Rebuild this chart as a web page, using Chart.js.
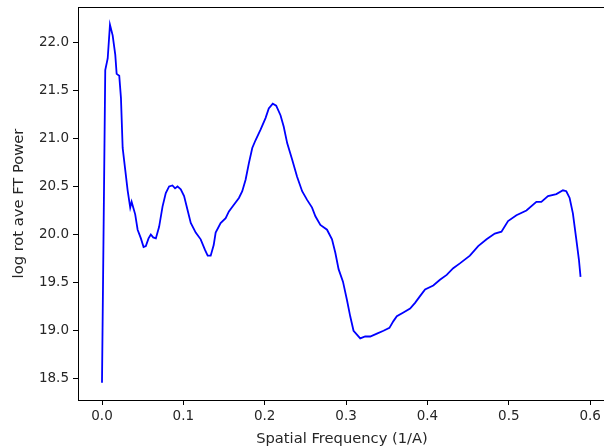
<!DOCTYPE html>
<html>
<head>
<meta charset="utf-8">
<script src="https://cdn.jsdelivr.net/npm/chart.js@4"></script>
<style>
  html, body { margin: 0; padding: 0; background: #fff; overflow: hidden; }
  #wrap { width: 610px; height: 448px; position: relative; }
</style>
</head>
<body>
<div id="wrap"><canvas id="fig"></canvas></div>
<script>
// rotationally averaged power spectrum
let freq = [0.0, 0.004, 0.007, 0.0098, 0.0131, 0.0163, 0.018, 0.0212, 0.0233, 0.0254,
  0.0286, 0.0315, 0.0347, 0.0364, 0.0384, 0.0408, 0.0438, 0.0478, 0.0511, 0.0539,
  0.0572, 0.060, 0.0629, 0.0662, 0.0702, 0.0744, 0.0784, 0.0825, 0.0866, 0.0898,
  0.0928, 0.0968, 0.1009, 0.105, 0.1091, 0.1152, 0.1213, 0.1266, 0.1299, 0.1336,
  0.1373, 0.1397, 0.1458, 0.152, 0.156, 0.1621, 0.1683, 0.1724, 0.1765, 0.1805,
  0.1847, 0.1887, 0.1949, 0.201, 0.205, 0.2099, 0.2141, 0.2194, 0.2234, 0.2276,
  0.2337, 0.2398, 0.246, 0.2521, 0.2582, 0.2623, 0.2684, 0.2766, 0.2827, 0.2868,
  0.2908, 0.2962, 0.3011, 0.3051, 0.3092, 0.3174, 0.3235, 0.3297, 0.3379, 0.346,
  0.3533, 0.3582, 0.3624, 0.3705, 0.3787, 0.3848, 0.3909, 0.3971, 0.4072, 0.4154,
  0.4237, 0.4317, 0.4399, 0.4522, 0.4624, 0.4727, 0.4828, 0.491, 0.4991, 0.5094,
  0.5217, 0.5339, 0.54, 0.5482, 0.5585, 0.5666, 0.5707, 0.5748, 0.5788, 0.583,
  0.5862, 0.5882];
let power = [18.46, 21.71, 21.83, 22.18, 22.07, 21.87, 21.67, 21.65, 21.42, 20.90,
  20.67, 20.46, 20.28, 20.34, 20.28, 20.21, 20.05, 19.96, 19.87, 19.88,
  19.96, 20.00, 19.97, 19.96, 20.08, 20.29, 20.43, 20.50, 20.51, 20.48,
  20.50, 20.47, 20.40, 20.26, 20.12, 20.02, 19.95, 19.84, 19.78, 19.78,
  19.89, 20.02, 20.12, 20.17, 20.24, 20.31, 20.38, 20.45, 20.57, 20.74,
  20.90, 20.98, 21.09, 21.21, 21.31, 21.36, 21.34, 21.24, 21.12, 20.95,
  20.78, 20.60, 20.45, 20.36, 20.28, 20.19, 20.10, 20.05, 19.95, 19.81,
  19.64, 19.51, 19.32, 19.15, 19.00, 18.92, 18.94, 18.94, 18.97, 19.00,
  19.03, 19.10, 19.15, 19.19, 19.23, 19.29, 19.36, 19.43, 19.47, 19.53,
  19.58, 19.65, 19.70, 19.78, 19.88, 19.95, 20.01, 20.03, 20.14, 20.20,
  20.25, 20.34, 20.34, 20.40, 20.42, 20.46, 20.45, 20.38, 20.22, 19.95,
  19.74, 19.56];

let xTicks = [0.0, 0.1, 0.2, 0.3, 0.4, 0.5, 0.6];
let yTicks = [18.5, 19.0, 19.5, 20.0, 20.5, 21.0, 21.5, 22.0];

const textColor = "#262626";
const fontFace = "'DejaVu Sans', sans-serif";

// matplotlib style box round the axes
const frame = {
    id: "frame",
    afterDraw(chart) {
        const a = chart.chartArea;
        const ctx = chart.ctx;
        ctx.save();
        ctx.strokeStyle = "#000";
        ctx.lineWidth = 1;
        ctx.strokeRect(Math.round(a.left) + 0.5, Math.round(a.top) + 0.5,
            Math.round(a.right - a.left), Math.round(a.bottom - a.top));
        ctx.restore();
    }
};

new Chart("fig", {
    type: "line",
    data: {
        datasets: [{
            data: freq.map((f, i) => ({ x: f, y: power[i] })),
            borderColor: "#0000ff",
            borderWidth: 1.8,
            pointRadius: 0,
            tension: 0,
            fill: false
        }]
    },
    options: {
        responsive: true,
        maintainAspectRatio: false,
        animation: false,
        layout: { padding: { top: 7, right: 4, left: 0, bottom: 0 } },
        plugins: { legend: { display: false }, tooltip: { enabled: false } },
        scales: {
            x: {
                type: "linear",
                min: -0.0295,
                max: 0.6195,
                afterBuildTicks: s => { s.ticks = xTicks.map(v => ({ value: v })); },
                afterFit: s => { s.height = 48; s.paddingLeft = 0; s.paddingRight = 0; },
                grid: { drawOnChartArea: false, tickLength: 5, color: "#000", tickWidth: 1 },
                border: { display: true, color: "#000" },
                ticks: {
                    color: textColor, padding: 3, maxRotation: 0,
                    font: { family: fontFace, size: 13.5 },
                    callback: v => v.toFixed(1)
                },
                title: {
                    display: true, text: "Spatial Frequency (1/A)", color: textColor,
                    font: { family: fontFace, size: 14.7 }, padding: { top: 0, bottom: 0 }
                }
            },
            y: {
                min: 18.28,
                max: 22.365,
                afterBuildTicks: s => { s.ticks = yTicks.map(v => ({ value: v })); },
                afterFit: s => { s.width = 78; s.paddingTop = 0; s.paddingBottom = 0; },
                grid: { drawOnChartArea: false, tickLength: 5, color: "#000", tickWidth: 1 },
                border: { display: true, color: "#000" },
                ticks: {
                    color: textColor, padding: 4,
                    font: { family: fontFace, size: 13.5 },
                    callback: v => v.toFixed(1)
                },
                title: {
                    display: true, text: "log rot ave FT Power", color: textColor,
                    font: { family: fontFace, size: 14.7 }, padding: { top: 10, bottom: 0 }
                }
            }
        }
    },
    plugins: [frame]
});
</script>
</body>
</html>
